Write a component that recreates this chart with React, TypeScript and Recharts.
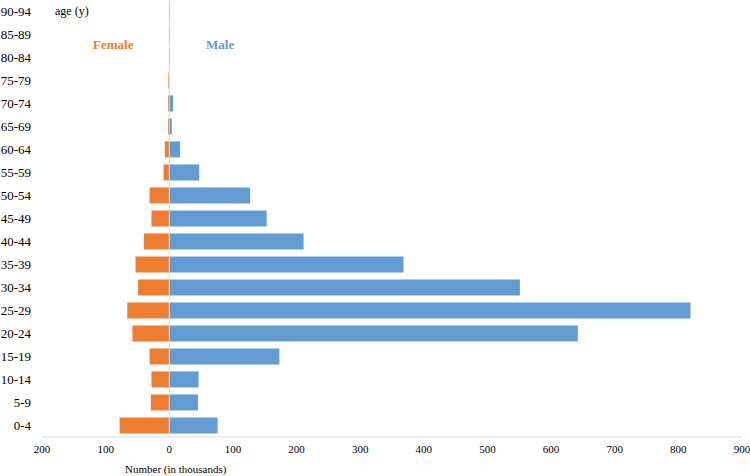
import React from 'react';
import { BarChart, Bar, XAxis, YAxis, ReferenceLine } from 'recharts';

const ageGroups = [
  '0-4', '5-9', '10-14', '15-19', '20-24', '25-29', '30-34', '35-39', '40-44',
  '45-49', '50-54', '55-59', '60-64', '65-69', '70-74', '75-79', '80-84', '85-89', '90-94',
];
// thousands; female drawn to the left
const female = [78, 29, 28, 31, 58, 66, 49, 53, 40, 28, 31, 9, 7, 2, 2, 1.5, 0, 0, 0];
const male = [76, 45, 46, 173, 642, 819, 551, 368, 211, 153, 127, 47, 17, 4, 6, 0, 1, 1, 1];
const xTicks = [-200, -100, 0, 100, 200, 300, 400, 500, 600, 700, 800, 900];

const data = ageGroups.map((age, i) => ({ age, female: -female[i], male: male[i] }));

const serif = '"Liberation Serif", "Times New Roman", serif';
const ORANGE = '#ED7D31';
const BLUE = '#639BD3';

export default function App() {
  return (
    <div style={{ position: 'absolute', left: 0, top: 0, width: 750, height: 476, background: '#fff', fontFamily: serif }}>
      <BarChart
        width={750}
        height={476}
        data={data}
        layout="vertical"
        stackOffset="sign"
        barCategoryGap="15%"
        margin={{ top: 0, right: 8, bottom: 19, left: 0 }}
        style={{ fontFamily: serif }}
      >
        <XAxis
          type="number"
          domain={[-200, 900]}
          ticks={xTicks}
          interval={0}
          tickFormatter={(v: number) => String(Math.abs(v))}
          tick={{ fill: '#000', fontSize: 11, fontFamily: serif }}
          tickLine={false}
          tickSize={0}
          tickMargin={8}
          axisLine={{ stroke: '#d9d9d9' }}
          height={20}
        />
        <YAxis
          type="category"
          dataKey="age"
          reversed
          width={42}
          interval={0}
          tick={{ fill: '#000', fontSize: 13, fontFamily: serif }}
          tickLine={false}
          tickSize={0}
          tickMargin={11}
          axisLine={false}
        />
        <ReferenceLine x={0} stroke="#d9d9d9" />
        <Bar dataKey="female" stackId="a" fill={ORANGE} isAnimationActive={false} />
        <Bar dataKey="male" stackId="a" fill={BLUE} isAnimationActive={false} />
      </BarChart>
      <div style={{ position: 'absolute', left: 55, top: 4, fontSize: 12, color: '#000' }}>age (y)</div>
      <div style={{ position: 'absolute', left: 93, top: 37, fontSize: 13, fontWeight: 'bold', color: ORANGE }}>Female</div>
      <div style={{ position: 'absolute', left: 206, top: 37, fontSize: 13, fontWeight: 'bold', color: BLUE }}>Male</div>
      <div style={{ position: 'absolute', left: 125, top: 463, fontSize: 11, color: '#000' }}>Number (in thousands)</div>
    </div>
  );
}
